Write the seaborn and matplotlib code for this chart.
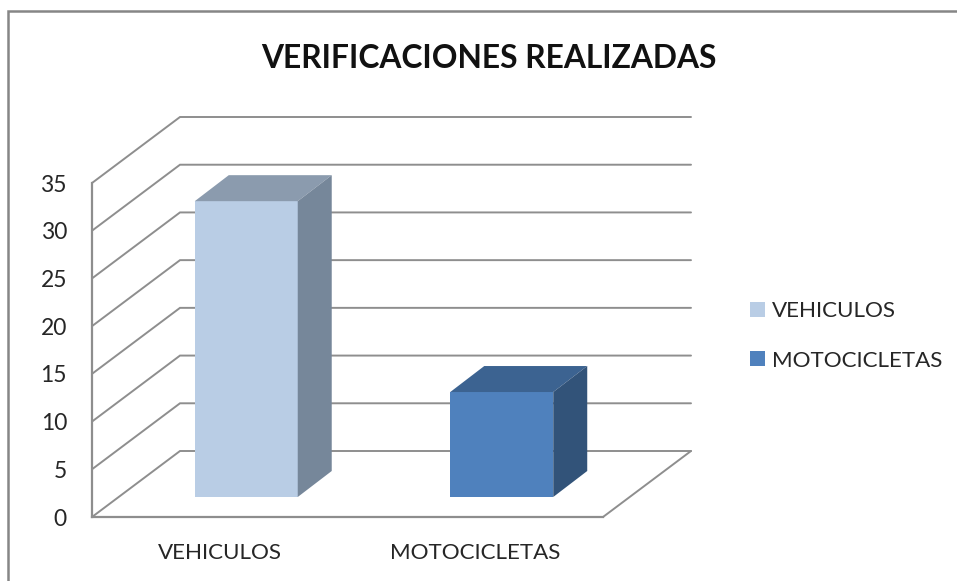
"""
Verificaciones realizadas: 3D-look column chart drawn on seaborn bars.
"""

import matplotlib
matplotlib.use('Agg')
import matplotlib.pyplot as plt
from matplotlib.lines import Line2D
from matplotlib.patches import Patch, Polygon
import seaborn as sns

categorias = ['VEHICULOS', 'MOTOCICLETAS']
verificaciones = [31, 11]
ticks_y = [0, 5, 10, 15, 20, 25, 30, 35]

colores_frente = ['#b9cde5', '#4f81bd']
colores_arriba = ['#8b9bae', '#3c6391']
colores_lado = ['#76879a', '#325379']

COLOR_LINEA = '#8e8e8e'
COLOR_TEXTO = '#262626'

sns.set_style('white')
plt.rcParams['font.family'] = ['Lato', 'DejaVu Sans']

W, H = 957, 581
fig = plt.figure(figsize=(W / 100, H / 100), dpi=100)
ax = fig.add_axes([92 / W, 1 - 517 / H, (603 - 92) / W, (517 - 183) / H])

sns.barplot(x=categorias, y=verificaciones, hue=categorias, palette=colores_frente,
            order=categorias, hue_order=categorias, dodge=False, width=0.403,
            saturation=1, legend=False, ax=ax, zorder=3)
ax.set_xlim(-0.5, 1.5)
ax.set_ylim(0, 35)

# pixels to data units, for the fake depth
px_x = 2 / (603 - 92)
px_y = 35 / (517 - 183)
pared_dx, pared_dy = 88 * px_x, 66 * px_y
barra_dx, barra_dy = 26.5 * px_x, 20 * px_y
fondo_dx, fondo_dy = 34 * px_x, 26 * px_y

# walls and floor
x0, x1 = ax.get_xlim()
for y in ticks_y:
    ax.plot([x0, x0 + pared_dx, x1 + pared_dx], [y, y + pared_dy, y + pared_dy],
            color=COLOR_LINEA, lw=1.4, clip_on=False, zorder=1,
            solid_joinstyle='miter')
ax.plot([x1 + pared_dx, x1], [pared_dy, 0], color=COLOR_LINEA, lw=1.4,
        clip_on=False, zorder=1)

# move the bars back from the front edge and add top and side faces
barras = [b for b in ax.patches if b.get_height() > 0]
for barra, arriba, lado in zip(barras, colores_arriba, colores_lado):
    barra.set_x(barra.get_x() + barra_dx)
    barra.set_y(barra_dy)
    barra.set_linewidth(0)
    xa, xb = barra.get_x(), barra.get_x() + barra.get_width()
    ya, yb = barra.get_y(), barra.get_y() + barra.get_height()
    ax.add_patch(Polygon([(xa, yb), (xb, yb), (xb + fondo_dx, yb + fondo_dy),
                          (xa + fondo_dx, yb + fondo_dy)],
                         facecolor=arriba, edgecolor='none', clip_on=False, zorder=3))
    ax.add_patch(Polygon([(xb, ya), (xb + fondo_dx, ya + fondo_dy),
                          (xb + fondo_dx, yb + fondo_dy), (xb, yb)],
                         facecolor=lado, edgecolor='none', clip_on=False, zorder=3))

sns.despine(ax=ax)
for lado in ['left', 'bottom']:
    ax.spines[lado].set_color(COLOR_LINEA)
    ax.spines[lado].set_linewidth(1.6)

ax.set_yticks(ticks_y)
ax.tick_params(axis='y', length=0, pad=18, labelsize=16.5, labelcolor=COLOR_TEXTO)
ax.tick_params(axis='x', length=0, pad=19, labelsize=16.1, labelcolor=COLOR_TEXTO)
ax.patch.set_alpha(0)

fig.text(488.5 / W, 1 - 59 / H, 'VERIFICACIONES REALIZADAS', ha='center', va='center',
         fontsize=22.9, fontweight='bold', color='#111111')

# seaborn drops the legend when hue repeats x, so it is built from the same colours
handles = [Patch(facecolor=c, edgecolor='none', label=n)
           for c, n in zip(colores_frente, categorias)]
ax.legend(handles=handles, loc='center left', bbox_to_anchor=(750 / W, 1 - 336 / H),
          bbox_transform=fig.transFigure, frameon=False, fontsize=16.1,
          labelcolor=COLOR_TEXTO, handlelength=0.67, handleheight=0.67,
          handletextpad=0.32, labelspacing=1.3, borderpad=0, borderaxespad=0)

# chart frame, cut by the screenshot on the right and at the bottom
fig.add_artist(Line2D([8 / W, 8 / W, 1], [0, 1 - 11 / H, 1 - 11 / H],
                      color='#868686', lw=1.8, solid_joinstyle='miter'))

fig.savefig('out.png', dpi=100)
